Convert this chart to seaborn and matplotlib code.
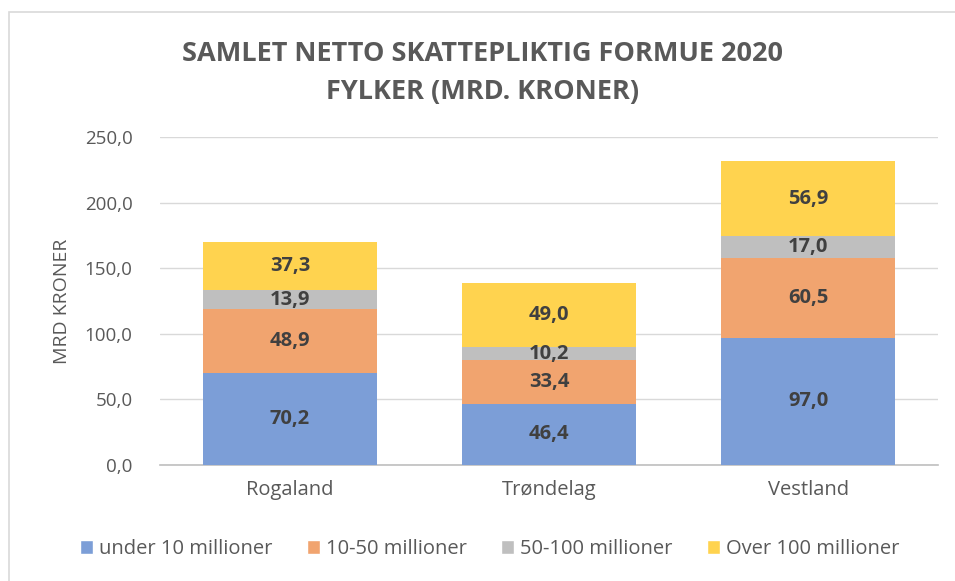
import matplotlib
matplotlib.use('Agg')
import numpy as np
import pandas as pd
import seaborn as sns
import matplotlib.pyplot as plt
from matplotlib.patches import Rectangle, Patch

# =========================================
# DATA
# =========================================

fylker = ["Rogaland", "Trøndelag", "Vestland"]

serier = [
    "under 10 millioner",
    "10-50 millioner",
    "50-100 millioner",
    "Over 100 millioner"
]

under_10 = [70.2, 46.4, 97.0]
mill_10_50 = [48.9, 33.4, 60.5]
mill_50_100 = [13.9, 10.2, 17.0]
over_100 = [37.3, 49.0, 56.9]

farger = ["#7C9ED7", "#F1A46F", "#BFBFBF", "#FFD34F"]

verdier = np.array([under_10, mill_10_50, mill_50_100, over_100])
kumulativ = np.cumsum(verdier, axis=0)

# =========================================
# PLOT
# =========================================

sns.set_style("white")
plt.rcParams['font.family'] = ['Open Sans', 'DejaVu Sans']

fig = plt.figure(figsize=(9.55, 5.81), dpi=100)
ax = fig.add_axes([0.168, 0.2, 0.814, 0.564])

# stacked: tegn toppen først, deretter lagene under
for i in range(len(serier) - 1, -1, -1):
    df = pd.DataFrame({"Fylke": fylker, "Verdi": kumulativ[i]})
    sns.barplot(
        data=df,
        x="Fylke",
        y="Verdi",
        color=farger[i],
        width=0.67,
        saturation=1,
        linewidth=0,
        edgecolor="none",
        ax=ax,
        zorder=3
    )

# verdier i midten av hvert segment
for i in range(len(serier)):
    for j in range(len(fylker)):
        bunn = kumulativ[i][j] - verdier[i][j]
        ax.text(
            j,
            bunn + verdier[i][j] / 2,
            f"{verdier[i][j]:.1f}".replace(".", ","),
            ha='center',
            va='center',
            fontsize=14.5,
            fontweight='bold',
            color="#404040",
            zorder=4
        )

ax.set_ylim(0, 250)
ax.set_yticks(np.arange(0, 251, 50))
ax.set_yticklabels([f"{v:.1f}".replace(".", ",") for v in np.arange(0, 251, 50)])
ax.set_xlim(-0.5, 2.5)

ax.yaxis.grid(True, color="#D9D9D9", linewidth=1, zorder=0)
ax.set_axisbelow(True)

for side in ["top", "right", "left"]:
    ax.spines[side].set_visible(False)
ax.spines["bottom"].set_color("#BFBFBF")
ax.spines["bottom"].set_linewidth(1.2)

ax.tick_params(axis='y', length=0, labelsize=13.5, colors="#595959", pad=20)
ax.tick_params(axis='x', length=0, labelsize=14.5, colors="#595959", pad=11)

ax.set_xlabel("")
ax.set_ylabel("MRD KRONER", fontsize=14, color="#595959", labelpad=10)

fig.suptitle(
    "SAMLET NETTO SKATTEPLIKTIG FORMUE 2020\nFYLKER (MRD. KRONER)",
    x=0.505,
    y=0.93,
    fontsize=19.5,
    fontweight='bold',
    color="#595959",
    linespacing=1.6
)

handles = [Patch(facecolor=farger[i], label=serier[i]) for i in range(len(serier))]
fig.legend(
    handles=handles,
    loc='center',
    bbox_to_anchor=(0.513, 0.055),
    ncol=4,
    frameon=False,
    fontsize=14.5,
    labelcolor="#595959",
    handlelength=0.65,
    handleheight=0.65,
    handletextpad=0.3,
    columnspacing=1.7
)

# ramme rundt diagrammet
fig.patches.append(Rectangle(
    (0.009, -0.01), 1.0, 0.99,
    transform=fig.transFigure,
    fill=False,
    edgecolor="#D9D9D9",
    linewidth=1.2
))

fig.savefig("out.png", dpi=100)
plt.close(fig)
